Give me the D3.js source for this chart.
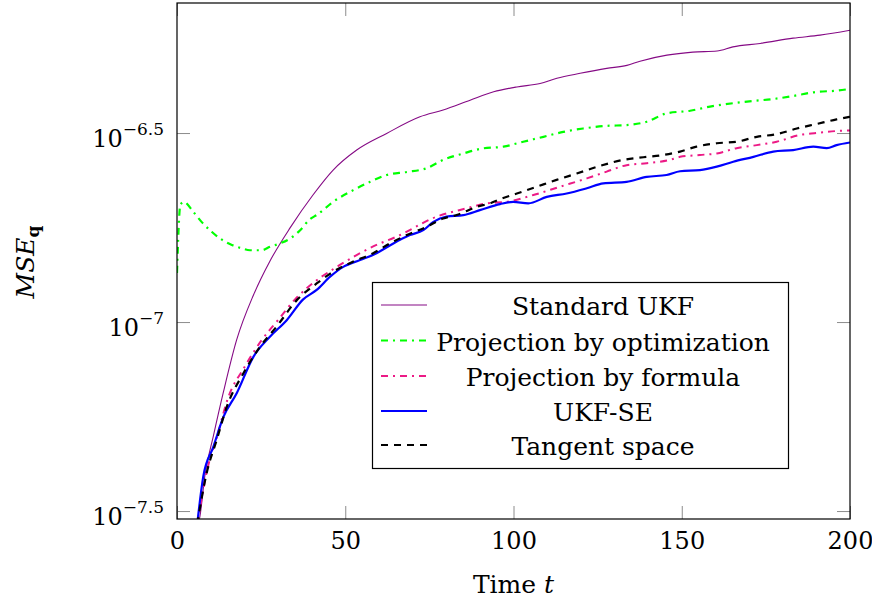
<!DOCTYPE html>
<html>
<head>
<meta charset="utf-8">
<script src="https://cdn.jsdelivr.net/npm/d3@7"></script>
<style>
  html, body { margin: 0; padding: 0; background: #fff; }
  svg { display: block; }
  text { font-family: "DejaVu Serif", "Liberation Serif", serif; fill: #000; }
</style>
</head>
<body>
<svg id="chart" width="872" height="604"></svg>
<script>
// ---- Data (values are log10 of MSE_q) ----
const xTicks = [0, 50, 100, 150, 200];
const yTickExponents = [-7.5, -7, -6.5];
const yTickLabels = ["\u22127.5", "\u22127", "\u22126.5"];

const seriesNames = ["Standard UKF", "Projection by optimization", "Projection by formula", "UKF-SE", "Tangent space"];

const standardT = [6,6.8,8.3,10.8,13.8,17.7,22.7,27.6,33.6,40.4,46.4,53.4,62.3,72.2,79.1,87.1,94.1,101,107.9,112.9,119.8,127.7,133.7,137.6,145.6,153.3,160.5,165.2,173.3,183.1,191.1,200];
const standardLog = [-7.545,-7.515,-7.405,-7.302,-7.185,-7.048,-6.929,-6.839,-6.751,-6.664,-6.598,-6.545,-6.501,-6.457,-6.439,-6.413,-6.391,-6.378,-6.369,-6.355,-6.342,-6.329,-6.321,-6.310,-6.294,-6.286,-6.283,-6.272,-6.263,-6.249,-6.241,-6.228];

const optimT = [0,1,2,4.8,7.3,10.3,12.8,16.3,19.2,21.7,25.2,27.6,30.6,33.6,36.6,39.5,41.5,46.4,52.4,57.4,62.3,68.3,74.2,79.1,85.1,90.6,97,102.9,108.9,114.8,120.7,127.7,133.6,139.6,145.5,152.5,158.4,165.3,171.3,177.2,183.1,190.1,196,200];
const optimLog = [-6.870,-6.690,-6.682,-6.708,-6.735,-6.761,-6.779,-6.796,-6.805,-6.810,-6.810,-6.801,-6.792,-6.779,-6.757,-6.728,-6.717,-6.682,-6.651,-6.629,-6.611,-6.603,-6.593,-6.571,-6.554,-6.541,-6.536,-6.523,-6.510,-6.497,-6.488,-6.481,-6.479,-6.470,-6.448,-6.441,-6.430,-6.421,-6.415,-6.410,-6.402,-6.391,-6.388,-6.383];

const formulaT = [6,9,12,15,20,25,30,35.6,38.5,48.4,59.3,65.3,77.2,86.1,92,98,105.9,113.8,121.8,127.7,133.6,139.6,146.5,149.5,155.4,160.4,166.3,172.3,178.2,185.2,191.1,197,200];
const formulaLog = [-7.535,-7.39,-7.30,-7.205,-7.12,-7.05,-6.995,-6.935,-6.911,-6.849,-6.796,-6.774,-6.721,-6.699,-6.686,-6.682,-6.664,-6.642,-6.620,-6.602,-6.585,-6.580,-6.571,-6.563,-6.558,-6.554,-6.540,-6.532,-6.523,-6.505,-6.499,-6.494,-6.493];

const ukfseT = [6,7.8,10.8,13.8,17.7,22.7,27.6,32.6,37.5,41.5,45.5,49.4,54.4,59.3,64.3,69.2,73.2,76.2,80.1,85.1,90,96,99.9,104.4,109.9,115.8,121.8,126.7,133.6,139.6,145.5,149.5,155.4,160.4,165.3,171.3,177.2,183.1,189.1,193.1,196,200];
const ukfseLog = [-7.535,-7.409,-7.330,-7.251,-7.189,-7.092,-7.039,-6.995,-6.940,-6.915,-6.880,-6.854,-6.836,-6.818,-6.792,-6.770,-6.757,-6.735,-6.721,-6.717,-6.704,-6.688,-6.682,-6.686,-6.669,-6.660,-6.646,-6.633,-6.629,-6.616,-6.611,-6.601,-6.598,-6.589,-6.576,-6.563,-6.549,-6.545,-6.536,-6.540,-6.532,-6.525];

const tangentT = [6,8.8,11.8,14.8,19.7,24.7,29.6,35.6,41.5,46.4,52.4,58.3,63.3,68.3,74.2,79.1,83.1,89.1,93,96,101,106.9,112.8,118.8,125.7,132.6,138.6,144.5,149.5,154.4,160.4,166.3,172.3,178.2,184.2,190.1,196,200];
const tangentLog = [-7.535,-7.400,-7.312,-7.224,-7.136,-7.065,-7.012,-6.942,-6.898,-6.867,-6.840,-6.818,-6.792,-6.770,-6.748,-6.726,-6.717,-6.695,-6.686,-6.675,-6.660,-6.642,-6.624,-6.607,-6.587,-6.571,-6.564,-6.558,-6.549,-6.536,-6.527,-6.523,-6.510,-6.503,-6.488,-6.476,-6.464,-6.457];

// ---- Layout ----
const L = 177, R = 850, T = 3, B = 519;
const svg = d3.select("#chart");

const x = d3.scaleLinear().domain([0, 200]).range([L, R]);
const y = d3.scaleLog().domain([Math.pow(10, -7.521), Math.pow(10, -6.156)]).range([B, T]);

svg.append("defs").append("clipPath").attr("id", "clip")
  .append("rect").attr("x", L).attr("y", T).attr("width", R - L).attr("height", B - T);

const series = [
  { name: seriesNames[0], t: standardT, v: standardLog, color: "#850a85", width: 1.1, dash: null },
  { name: seriesNames[1], t: optimT, v: optimLog, color: "#00ff00", width: 2.2, dash: "7,5,2,5" },
  { name: seriesNames[2], t: formulaT, v: formulaLog, color: "#ec1a86", width: 2.0, dash: "7,5,2,5" },
  { name: seriesNames[3], t: ukfseT, v: ukfseLog, color: "#0000ff", width: 2.2, dash: null },
  { name: seriesNames[4], t: tangentT, v: tangentLog, color: "#000000", width: 2.2, dash: "7,6" }
];

const line = d3.line()
  .x(d => x(d[0]))
  .y(d => y(d[1]))
  .curve(d3.curveMonotoneX);

const plot = svg.append("g").attr("clip-path", "url(#clip)");
series.forEach(s => {
  const pts = s.t.map((t, i) => [t, Math.pow(10, s.v[i])]);
  plot.append("path")
    .attr("d", line(pts))
    .attr("fill", "none")
    .attr("stroke", s.color)
    .attr("stroke-width", s.width)
    .attr("stroke-linejoin", "round")
    .attr("stroke-dasharray", s.dash);
});

// ---- Axes (ticks inside, on both sides) ----
const tickLen = 13;
const tickColor = "#8c8c8c";
const axes = svg.append("g");

const xb = d3.axisBottom(x).tickValues(xTicks).tickSize(-tickLen).tickFormat(d3.format("d")).tickPadding(0);
const gxb = axes.append("g").attr("transform", `translate(0,${B})`).call(xb);
gxb.select(".domain").remove();
gxb.selectAll(".tick line").attr("stroke", tickColor);
gxb.selectAll(".tick text")
  .attr("y", 30).attr("dy", null)
  .style("font-family", "'DejaVu Serif', serif").style("font-size", "24px").attr("fill", "#000");

const xt = d3.axisTop(x).tickValues(xTicks).tickSize(-tickLen).tickFormat("");
const gxt = axes.append("g").attr("transform", `translate(0,${T})`).call(xt);
gxt.select(".domain").remove();
gxt.selectAll(".tick line").attr("stroke", tickColor);

const yTickVals = yTickExponents.map(e => Math.pow(10, e));
const yl = d3.axisLeft(y).tickValues(yTickVals).tickSize(-tickLen).tickFormat("");
const gyl = axes.append("g").attr("transform", `translate(${L},0)`).call(yl);
gyl.select(".domain").remove();
gyl.selectAll(".tick line").attr("stroke", tickColor);

const yr = d3.axisRight(y).tickValues(yTickVals).tickSize(-tickLen).tickFormat("");
const gyr = axes.append("g").attr("transform", `translate(${R},0)`).call(yr);
gyr.select(".domain").remove();
gyr.selectAll(".tick line").attr("stroke", tickColor);

yTickVals.forEach((v, i) => {
  const yy = y(v);
  const t = svg.append("text")
    .attr("x", 164).attr("y", yy + 14)
    .attr("text-anchor", "end")
    .style("font-size", "24px");
  t.append("tspan").text("10");
  t.append("tspan").attr("dy", -12).style("font-size", "17px").text(yTickLabels[i]);
});

svg.append("rect")
  .attr("x", L).attr("y", T).attr("width", R - L).attr("height", B - T)
  .attr("fill", "none").attr("stroke", "#000").attr("stroke-width", 1.2);

const xl = svg.append("text")
  .attr("x", (L + R) / 2).attr("y", 593)
  .attr("text-anchor", "middle").style("font-size", "25px");
xl.append("tspan").text("Time ");
xl.append("tspan").style("font-style", "italic").text("t");

const ylab = svg.append("text")
  .attr("transform", `translate(34,${(T + B) / 2 + 1}) rotate(-90)`)
  .attr("text-anchor", "middle").style("font-size", "25px");
ylab.append("tspan").style("font-style", "italic").text("MSE");
ylab.append("tspan").attr("dy", 5).style("font-size", "17px").style("font-weight", "bold").text("q");

// ---- Legend ----
const lg = svg.append("g");
lg.append("rect")
  .attr("x", 372.5).attr("y", 282.5).attr("width", 416).attr("height", 186)
  .attr("fill", "#fff").attr("stroke", "#000").attr("stroke-width", 1.2);
const rowY = [305, 340.5, 376, 411, 445];
series.forEach((s, i) => {
  lg.append("line")
    .attr("x1", 381).attr("x2", 427)
    .attr("y1", rowY[i]).attr("y2", rowY[i])
    .attr("stroke", s.color).attr("stroke-width", s.width)
    .attr("stroke-dasharray", s.dash);
  lg.append("text")
    .attr("x", 603).attr("y", rowY[i] + 10)
    .attr("text-anchor", "middle").style("font-size", "25px")
    .text(s.name);
});
</script>
</body>
</html>
